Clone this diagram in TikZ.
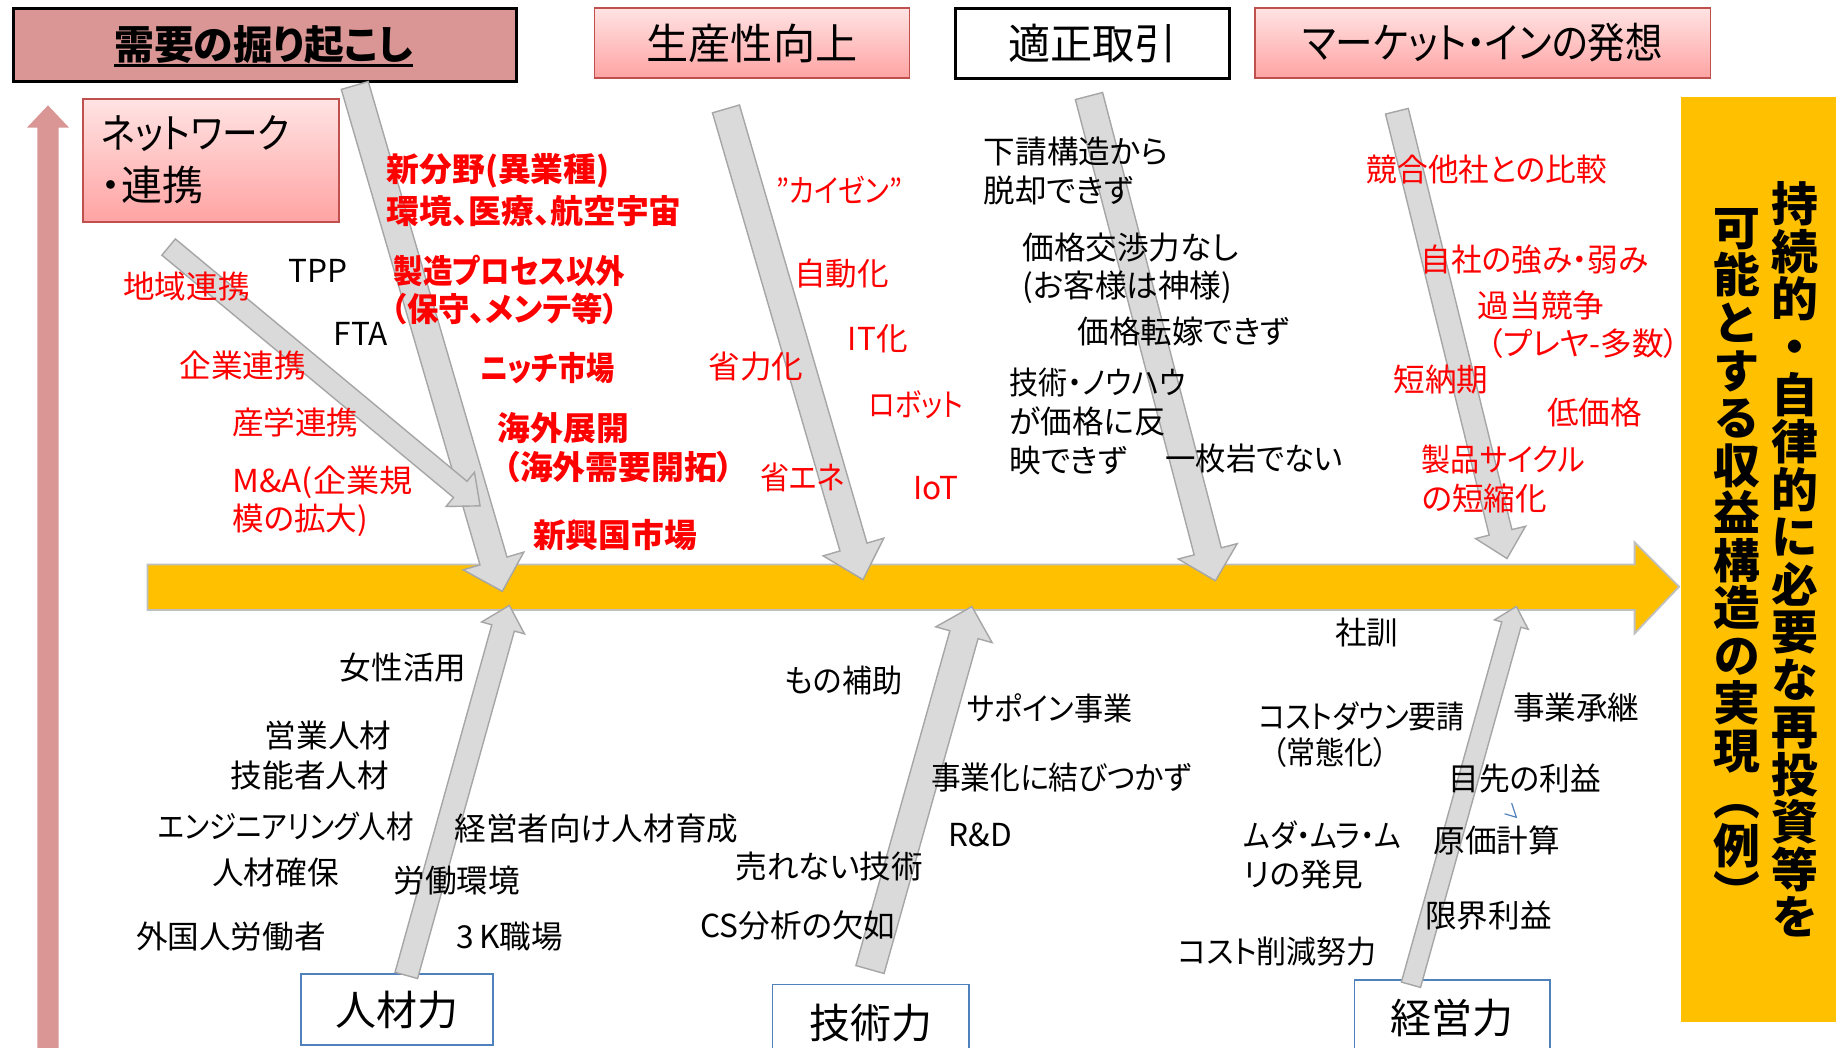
\documentclass[tikz,border=0pt]{standalone}
\usepackage{fontspec}
\usepackage{graphicx}
\usetikzlibrary{calc}
\setmainfont{Noto Sans CJK JP}[RawFeature=+palt]
\newfontfamily\jpv{Noto Sans CJK JP}[RawFeature=+vert]
\definecolor{pinkD}{HTML}{D99694}
\definecolor{gold}{HTML}{FFC000}
\definecolor{gfill}{HTML}{DADADA}
\definecolor{gline}{HTML}{A6A6A6}
\definecolor{sline}{HTML}{BFBFBF}
\definecolor{bblue}{HTML}{4F81BD}
\definecolor{pinkT}{HTML}{FFE3E3}
\definecolor{pinkB}{HTML}{FFA3A3}
\definecolor{pinkL}{HTML}{C0504D}
\definecolor{jred}{HTML}{FF0000}
\newcommand\sx[2]{\scalebox{#1}[1]{#2}}
\tikzset{
  lbl/.style={inner sep=0pt, anchor=west, align=left, font=\fontsize{27}{33}\selectfont},
  rl/.style={lbl, text=jred},
  bl/.style={lbl, text=jred, font=\bfseries\fontsize{28}{33}\selectfont},
  garrow/.style={fill=gfill, draw=gline, line width=1.2pt, line join=miter},
  pinkbox/.style={draw=pinkL, line width=1.5pt, top color=pinkT, bottom color=pinkB, anchor=north west, inner sep=0pt},
  blackbox/.style={draw=black, line width=2.5pt, anchor=north west, inner sep=0pt},
  bluebox/.style={draw=bblue, line width=1.5pt, fill=white, anchor=north west, inner sep=0pt, font=\fontsize{35}{40}\selectfont},
  toptext/.style={font=\fontsize{36}{40}\selectfont},
  vtext/.style={inner sep=0pt, align=center, font=\jpv\bfseries\fontsize{40}{40.6}\selectfont},
}
\newcommand\blockarr[5]{%
  \coordinate (#1-b) at ($(#2)!#5!(#1)$);
  \path[garrow] ($(#1)!#3!90:(#2)$) -- ($(#1-b)!#3!-90:(#1)$) -- ($(#1-b)!#4!-90:(#1)$) -- (#2) -- ($(#1-b)!#4!90:(#1)$) -- ($(#1-b)!#3!90:(#1)$) -- ($(#1)!#3!-90:(#2)$) -- cycle;
}
\begin{document}
\begin{tikzpicture}[x=1pt,y=-1pt]
\useasboundingbox (0,0) rectangle (1568,895);
\fill[white] (0,0) rectangle (1568,895);
\clip (0,0) rectangle (1568,895);

% left pink arrow
\fill[pinkD] (32,900) -- (32,109) -- (23,109) -- (41,90) -- (59,109) -- (50,109) -- (50,900) -- cycle;

% top boxes
\node[blackbox, fill=pinkD, minimum width=430pt, minimum height=62pt] (top1) at (10,6) {};
\node[inner sep=0pt, font=\bfseries\fontsize{34}{38}\selectfont] (t1txt) at (225,38) {需要の掘り起こし};
\draw[line width=2.5pt] ([yshift=-5.5pt]t1txt.base west) -- ([yshift=-5.5pt]t1txt.base east);
\node[pinkbox, minimum width=269pt, minimum height=60pt, toptext] (top2) at (507,6) {生産性向上};
\node[blackbox, fill=white, minimum width=234pt, minimum height=60pt, toptext] (top3) at (815,6) {適正取引};
\node[pinkbox, minimum width=389pt, minimum height=60pt, toptext] (top4) at (1071,6) {\sx{0.89}{マーケット・インの発想}};

% network box
\node[pinkbox, minimum width=219pt, minimum height=105pt] (nw) at (70,84) {};
\node[inner sep=0pt, anchor=west, font=\fontsize{35}{44}\selectfont] (nw1) at (86,114) {\sx{0.87}{ネットワーク}};
\node[inner sep=0pt, anchor=west, font=\fontsize{35}{44}\selectfont] (nw2) at (86,158) {・連携};

% right goal box
\fill[gold] (1436,83) rectangle (1580,873);
\node[vtext] (g1) at (1533,478) {持\\続\\的\\・\\自\\律\\的\\に\\必\\要\\な\\再\\投\\資\\等\\を};
\node[vtext] (g2) at (1483,478) {可\\能\\と\\す\\る\\収\\益\\構\\造\\の\\実\\現\\（\\例\\）};

% spine
\path[fill=gold, draw=sline, line width=1.5pt] (126,482) -- (1396,482) -- (1396,463) -- (1434,501) -- (1396,541) -- (1396,521) -- (126,521) -- cycle;

% bottom boxes
\node[bluebox, minimum width=164pt, minimum height=61pt] (bot1) at (256,831) {人材力};
\node[bluebox, minimum width=168pt, minimum height=66pt] (bot2) at (659,840) {技術力};
\node[bluebox, minimum width=167pt, minimum height=66pt] (bot3) at (1156,836) {経営力};

% fishbone arrows
\coordinate (a1t) at (303,73);  \coordinate (a1p) at (429,505);
\coordinate (a2t) at (144,211); \coordinate (a2p) at (410,432);
\coordinate (a3t) at (620,93);  \coordinate (a3p) at (737,495);
\coordinate (a4t) at (930,82);  \coordinate (a4p) at (1038,496);
\coordinate (a5t) at (1193,95); \coordinate (a5p) at (1287,477);
\coordinate (b1t) at (347,833); \coordinate (b1p) at (435,517);
\coordinate (b2t) at (743,828); \coordinate (b2p) at (830,518);
\coordinate (b3t) at (1205,841);\coordinate (b3p) at (1295,518);
\blockarr{a1t}{a1p}{12pt}{27pt}{27pt}
\blockarr{a2t}{a2p}{9pt}{19pt}{22pt}
\blockarr{a3t}{a3p}{12pt}{27pt}{29pt}
\blockarr{a4t}{a4p}{12pt}{26pt}{26pt}
\blockarr{a5t}{a5p}{10pt}{22pt}{23pt}
\blockarr{b1t}{b1p}{10pt}{19pt}{20pt}
\blockarr{b2t}{b2p}{12.5pt}{25pt}{25pt}
\blockarr{b3t}{b3p}{8.5pt}{15pt}{16pt}

% upper-left labels
\node[lbl] (l1) at (246,231) {TPP};
\node[lbl] (l2) at (285,285) {FTA};
\node[rl] (l3) at (105,245) {地域連携};
\node[rl] (l4) at (153,312) {企業連携};
\node[rl] (l5) at (198,361) {産学連携};
\node[rl] (l6) at (198,428) {\sx{1.05}{M\&A(企業規}\\模の拡大)};
\node[bl] (l7) at (330,146) {新分野(異業種)};
\node[bl] (l8) at (330,180) {環境、医療、航空宇宙};
\node[bl] (l9) at (336,231) {\sx{0.9}{製造プロセス以外}};
\node[bl] (l10) at (334,264) {\sx{0.96}{（保守、メンテ等）}};
\node[bl] (l11) at (410,314) {\sx{0.86}{ニッチ市場}};
\node[bl] (l12) at (425,366) {海外展開};
\node[bl] (l13) at (430,399) {（海外需要開拓）};
\node[bl] (l14) at (455,457) {新興国市場};

% productivity labels
\node[rl] (p1) at (663,162) {\sx{0.86}{”カイゼン”}};
\node[rl] (p2) at (678,234) {自動化};
\node[rl] (p3) at (724,289) {IT化};
\node[rl] (p4) at (605,313) {省力化};
\node[rl] (p5) at (742,346) {\sx{0.85}{ロボット}};
\node[rl] (p6) at (649,408) {\sx{0.92}{省エネ}};
\node[rl] (p7) at (780,417) {IoT};

% fair trade labels
\node[lbl] (f1) at (840,146) {下請構造から\\脱却できず};
\node[lbl] (f2) at (873,229) {価格交渉力なし\\(お客様は神様)};
\node[lbl] (f3) at (920,283) {価格転嫁できず};
\node[lbl] (f4) at (862,360) {\sx{0.92}{技術・ノウハウ}\\が価格に反\\映できず};
\node[lbl] (f5) at (995,392) {\sx{0.96}{一枚岩でない}};

% market-in labels
\node[rl] (m1) at (1167,145) {\sx{0.97}{競合他社との比較}};
\node[rl] (m2) at (1213,222) {\sx{0.97}{自社の強み・弱み}};
\node[rl] (m3) at (1262,261) {過当競争};
\node[rl] (m4) at (1270,293) {（プレヤ-多数）};
\node[rl] (m5) at (1190,324) {短納期};
\node[rl] (m6) at (1321,352) {低価格};
\node[rl] (m7) at (1214,409) {\sx{0.92}{製品サイクル}\\の短縮化};

% human resources labels
\node[lbl] (h1) at (290,570) {女性活用};
\node[lbl] (h2) at (226,628) {営業人材};
\node[lbl] (h3) at (197,662) {技能者人材};
\node[lbl] (h4) at (135,706) {\sx{0.87}{エンジニアリング人材}};
\node[lbl] (h5) at (181,745) {人材確保};
\node[lbl] (h6) at (116,800) {外国人労働者};
\node[lbl] (h7) at (388,708) {経営者向け人材育成};
\node[lbl] (h8) at (336,752) {労働環境};
\node[lbl] (h9) at (390,800) {3\hspace{4pt}K職場};

% technology labels
\node[lbl] (k1) at (670,581) {\sx{0.95}{もの補助}};
\node[lbl] (k2) at (826,605) {\sx{0.92}{サポイン事業}};
\node[lbl] (k3) at (795,664) {\sx{0.94}{事業化に結びつかず}};
\node[lbl] (k4) at (810,713) {R\&D};
\node[lbl] (k5) at (628,740) {売れない技術};
\node[lbl] (k6) at (598,790) {CS分析の欠如};

% management labels
\node[lbl] (e1) at (1140,540) {社訓};
\node[lbl] (e2) at (1075,612) {\sx{0.89}{コストダウン要請}};
\node[lbl] (e3) at (1086,643) {\sx{0.92}{（常態化）}};
\node[lbl] (e4) at (1292,604) {事業承継};
\node[lbl] (e5) at (1237,665) {\sx{0.97}{目先の利益}};
\node[lbl] (e6) at (1224,718) {原価計算};
\node[lbl] (e7) at (1062,730) {\sx{0.9}{ムダ・ムラ・ム}\\リの発見};
\node[lbl] (e8) at (1217,782) {限界利益};
\node[lbl] (e9) at (1006,813) {\sx{0.95}{コスト削減努力}};
\draw[bblue, line width=1pt] (1291,686) -- (1295,698) -- (1285,695);
\end{tikzpicture}
\end{document}
